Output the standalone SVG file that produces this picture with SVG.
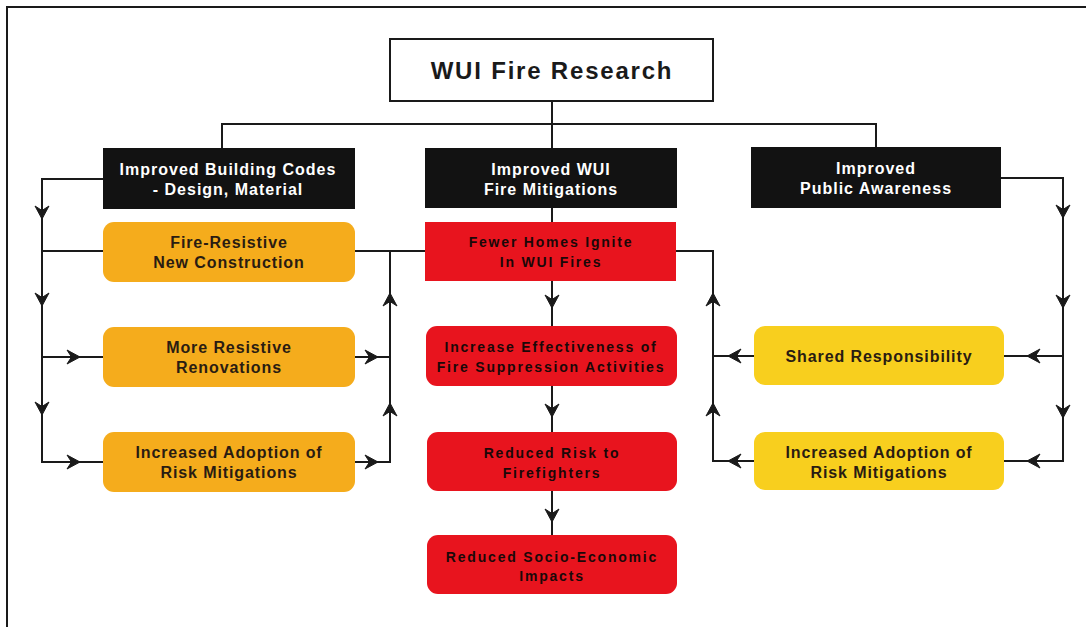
<svg xmlns="http://www.w3.org/2000/svg" width="1086" height="627" viewBox="0 0 1086 627">
<style>
.frame{fill:none;stroke:#1a1a1a;stroke-width:2}
.ln{fill:none;stroke:#1a1a1a;stroke-width:2}
.blk{fill:#121212}
.org{fill:#F5AC1C}
.yel{fill:#F8CF1E}
.red{fill:#E8141E}
.t{font-family:"Liberation Sans",Arial,sans-serif;font-weight:bold;text-anchor:middle}
.tw{fill:#ffffff;font-size:16px;letter-spacing:1px}
.td{fill:#2a1c12;font-size:16px;letter-spacing:0.9px}
.tr{fill:#1a0808;font-size:14px;letter-spacing:1.8px}
</style>
<defs>
<path id="ah" d="M0,0 L-13,-7 L-8.5,0 L-13,7 Z" fill="#1a1a1a" stroke="#1a1a1a" stroke-width="1" stroke-linejoin="miter"/>
</defs>
<rect x="0" y="0" width="1086" height="627" fill="#ffffff"/>
<path class="frame" d="M7,627 V7 H1086"/>

<g id="connectors">
<path class="ln" d="M552,101 V148"/>
<path class="ln" d="M222,148 V124 H876 V147"/>
<path class="ln" d="M103,179 H42 V462 H103"/>
<path class="ln" d="M42,251 H103"/>
<path class="ln" d="M42,357 H103"/>
<path class="ln" d="M355,251 H425"/>
<path class="ln" d="M390,251 V462 H355"/>
<path class="ln" d="M355,357 H390"/>
<path class="ln" d="M552,208 V222"/>
<path class="ln" d="M552,281 V326"/>
<path class="ln" d="M552,386 V432"/>
<path class="ln" d="M552,491 V535"/>
<path class="ln" d="M676,251 H713 V461 H754"/>
<path class="ln" d="M713,356 H754"/>
<path class="ln" d="M1001,178 H1063 V461 H1004"/>
<path class="ln" d="M1063,356 H1004"/>
<use href="#ah" transform="translate(42,219) rotate(90)"/>
<use href="#ah" transform="translate(42,306) rotate(90)"/>
<use href="#ah" transform="translate(42,415) rotate(90)"/>
<use href="#ah" transform="translate(80,357)"/>
<use href="#ah" transform="translate(80,462)"/>
<use href="#ah" transform="translate(378,357)"/>
<use href="#ah" transform="translate(378,462)"/>
<use href="#ah" transform="translate(390,293) rotate(-90)"/>
<use href="#ah" transform="translate(390,403) rotate(-90)"/>
<use href="#ah" transform="translate(552,308) rotate(90)"/>
<use href="#ah" transform="translate(552,417) rotate(90)"/>
<use href="#ah" transform="translate(552,522) rotate(90)"/>
<use href="#ah" transform="translate(713,293) rotate(-90)"/>
<use href="#ah" transform="translate(713,403) rotate(-90)"/>
<use href="#ah" transform="translate(728,356) rotate(180)"/>
<use href="#ah" transform="translate(728,461) rotate(180)"/>
<use href="#ah" transform="translate(1063,218) rotate(90)"/>
<use href="#ah" transform="translate(1063,308) rotate(90)"/>
<use href="#ah" transform="translate(1063,418) rotate(90)"/>
<use href="#ah" transform="translate(1027,356) rotate(180)"/>
<use href="#ah" transform="translate(1027,461) rotate(180)"/>
</g>

<g id="wui-fire-research">
<rect x="390" y="39" width="323" height="62" fill="#ffffff" stroke="#1a1a1a" stroke-width="2"/>
<text class="t" x="552" y="79" font-size="24" fill="#1a1a1a" letter-spacing="1.8">WUI Fire Research</text>
</g>

<g id="building-codes">
<rect class="blk" x="103" y="148" width="252" height="61"/>
<text class="t tw" x="228" y="175">Improved Building Codes</text>
<text class="t tw" x="228" y="195">- Design, Material</text>
</g>

<g id="wui-mitigations">
<rect class="blk" x="425" y="148" width="252" height="60"/>
<text class="t tw" x="551" y="175">Improved WUI</text>
<text class="t tw" x="551" y="195">Fire Mitigations</text>
</g>

<g id="public-awareness">
<rect class="blk" x="751" y="147" width="250" height="61"/>
<text class="t tw" x="876" y="174">Improved</text>
<text class="t tw" x="876" y="194">Public Awareness</text>
</g>

<g id="fire-resistive">
<rect class="org" x="103" y="222" width="252" height="60" rx="11"/>
<text class="t td" x="229" y="248">Fire-Resistive</text>
<text class="t td" x="229" y="268">New Construction</text>
</g>

<g id="resistive-renovations">
<rect class="org" x="103" y="327" width="252" height="60" rx="11"/>
<text class="t td" x="229" y="353">More Resistive</text>
<text class="t td" x="229" y="373">Renovations</text>
</g>

<g id="adoption-left">
<rect class="org" x="103" y="432" width="252" height="60" rx="11"/>
<text class="t td" x="229" y="458">Increased Adoption of</text>
<text class="t td" x="229" y="478">Risk Mitigations</text>
</g>

<g id="fewer-homes">
<rect class="red" x="425" y="222" width="251" height="59"/>
<text class="t tr" x="551" y="247">Fewer Homes Ignite</text>
<text class="t tr" x="551" y="267">In WUI Fires</text>
</g>

<g id="suppression">
<rect class="red" x="426" y="326" width="251" height="60" rx="11"/>
<text class="t tr" x="551" y="352">Increase Effectiveness of</text>
<text class="t tr" x="551" y="372">Fire Suppression Activities</text>
</g>

<g id="firefighters">
<rect class="red" x="427" y="432" width="250" height="59" rx="11"/>
<text class="t tr" x="552" y="458">Reduced Risk to</text>
<text class="t tr" x="552" y="478">Firefighters</text>
</g>

<g id="socio-economic">
<rect class="red" x="427" y="535" width="250" height="59" rx="11"/>
<text class="t tr" x="552" y="562">Reduced Socio-Economic</text>
<text class="t tr" x="552" y="581">Impacts</text>
</g>

<g id="shared-responsibility">
<rect class="yel" x="754" y="326" width="250" height="59" rx="11"/>
<text class="t td" x="879" y="362">Shared Responsibility</text>
</g>

<g id="adoption-right">
<rect class="yel" x="754" y="432" width="250" height="58" rx="11"/>
<text class="t td" x="879" y="458">Increased Adoption of</text>
<text class="t td" x="879" y="478">Risk Mitigations</text>
</g>
</svg>
